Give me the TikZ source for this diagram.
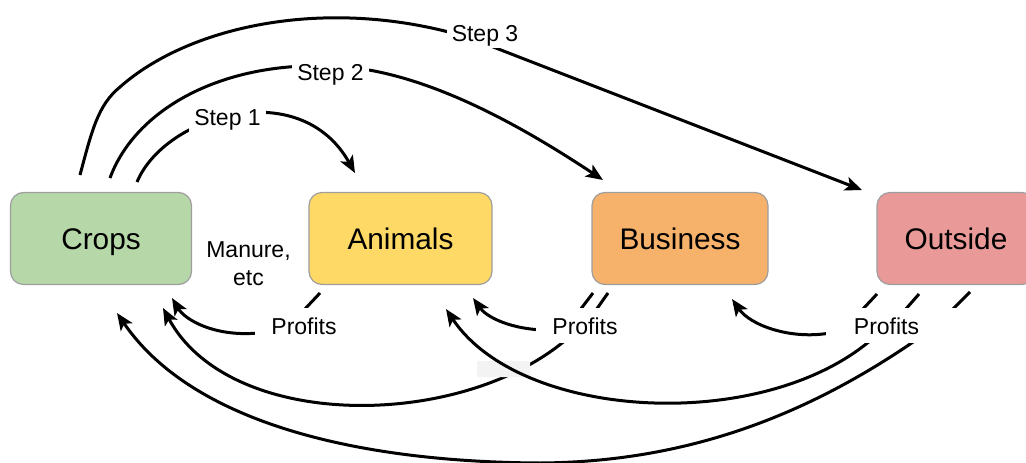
\documentclass[tikz,border=0pt]{standalone}
\usepackage{fontspec}
\setmainfont{Liberation Sans}
\usetikzlibrary{arrows.meta}
\definecolor{cropc}{HTML}{B6D7A8}
\definecolor{animc}{HTML}{FFD966}
\definecolor{busc}{HTML}{F6B26B}
\definecolor{outc}{HTML}{EA9999}
\definecolor{edgec}{HTML}{9E9E9E}
\definecolor{patchc}{HTML}{F3F3F3}
\begin{document}
\begin{tikzpicture}[x=1pt,y=-1pt,
  box/.style={draw=edgec, line width=1.2pt, rounded corners=13pt, minimum height=92pt,
    text height=21pt, text depth=0pt, inner sep=0pt,
    font=\fontsize{29.8pt}{36pt}\selectfont},
  conn/.style={line width=3pt, draw=black, -{Stealth[length=17pt,width=14pt,inset=4pt]}},
  smalltext/.style={font=\fontsize{23pt}{28pt}\selectfont},
  steplbl/.style={smalltext, fill=white, inner xsep=5pt, inner ysep=2pt, anchor=base},
  proflbl/.style={smalltext, fill=white, inner xsep=16pt, inner ysep=9pt, anchor=base},
]
\useasboundingbox (0,0) rectangle (1026,463);

% boxes
\node[box, fill=cropc, minimum width=181pt] (crops) at (101,238.5) {Crops};
\node[box, fill=animc, minimum width=183pt] (animals) at (400.5,238.5) {Animals};
\node[box, fill=busc, minimum width=176pt] (business) at (680,238.5) {Business};
\node[box, fill=outc, minimum width=158pt] (outside) at (956,238.5) {Outside};

\node[smalltext, align=center, inner sep=0pt, anchor=north] (manure) at (248.5,241) {Manure,\\etc};

% connector ends
\coordinate (s1a) at (137,182); \coordinate (s1b) at (355,173);
\coordinate (s2a) at (110,178); \coordinate (s2b) at (603,180);
\coordinate (s3a) at (80,175);  \coordinate (s3b) at (862,190);
\coordinate (pa1) at (320,293); \coordinate (pa2) at (172,298);
\coordinate (pb1) at (608,293); \coordinate (pb2) at (473,298);
\coordinate (pc1) at (593,293); \coordinate (pc2) at (163,308);
\coordinate (pd1) at (919,294); \coordinate (pd2) at (117,313);
\coordinate (pe1) at (877,294); \coordinate (pe2) at (446,309);
\coordinate (pf1) at (970,292); \coordinate (pf2) at (732,299);

% step connectors
\draw[conn] (s1a) .. controls (165,115) and (300,75) .. (s1b);
\draw[conn] (s2a) .. controls (135,110) and (220,62) .. (330,66)
  .. controls (420,68) and (520,125) .. (s2b);
\draw[conn] (s3a) .. controls (92,130) and (98,105) .. (120,87)
  .. controls (190,25) and (330,-5) .. (470,38) -- (s3b);

% profit connectors
\draw[conn] (pa1) -- (304,310) -- (258,333) .. controls (215,337) and (185,320) .. (pa2);
\draw[conn] (pb1) -- (596,310) -- (542,330) .. controls (505,328) and (485,315) .. (pb2);
\draw[conn] (pc1) -- (580,310) -- (568,338) .. controls (462,430) and (230,432) .. (pc2);
\fill[patchc, rounded corners=2pt] (477,361) rectangle (530,377);
\draw[conn] (pd1) -- (905,310) -- (916,340) .. controls (800,420) and (680,462) .. (540,463)
  .. controls (350,462) and (190,420) .. (pd2);
\draw[conn] (pe1) -- (862,310) -- (871,340) .. controls (760,434) and (520,420) .. (pe2);
\draw[conn] (pf1) -- (952,310) -- (940,322) -- (830,333) .. controls (790,340) and (750,325) .. (pf2);

% labels
\node[steplbl] (st1) at (227.5,125) {Step 1};
\node[steplbl] (st2) at (330.5,80) {Step 2};
\node[steplbl] (st3) at (485,41.7) {Step 3};
\node[proflbl] (pra) at (304,334) {Profits};
\node[proflbl] (prb) at (585,334) {Profits};
\node[proflbl, inner xsep=0pt] (prc) at (891.5,334) {\hspace*{28pt}Profits\hspace*{38pt}};
\end{tikzpicture}
\end{document}
